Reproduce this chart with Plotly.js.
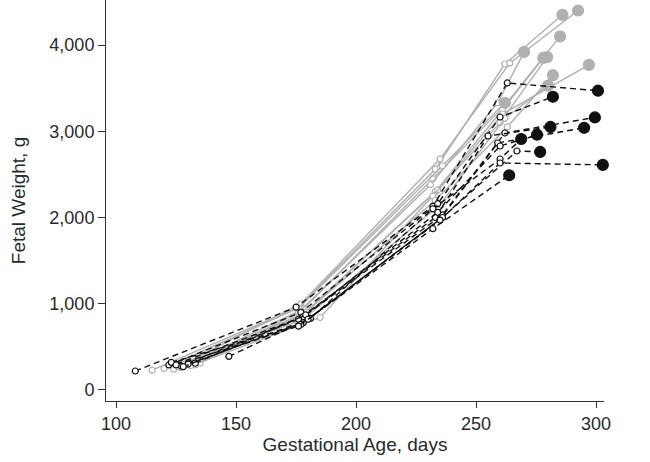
<!DOCTYPE html>
<html>
<head>
<meta charset="utf-8">
<script src="https://cdn.plot.ly/plotly-3.0.1.min.js"></script>
<style>
  html, body { margin: 0; padding: 0; background: #fff; }
  #chart { width: 650px; height: 462px; }
</style>
</head>
<body>
<div id="chart"></div>
<script>
// gestational age (days) and fetal weight (g) per fetus, last point = birth
const grayDays = [
    [115, 176, 233, 262, 286],
    [124, 177, 235, 264, 292.5],
    [127, 178, 232, 262, 285],
    [133, 176, 231, 259, 270],
    [135, 178, 233, 261, 278],
    [128, 177, 234, 260, 279.6],
    [131, 185, 232, 261, 297],
    [126, 179, 233, 263, 282],
    [130, 178, 235, 262, 280],
    [120, 176, 236, 262],
];
const grayWeights = [
    [230, 960, 2560, 3780, 4350],
    [240, 1000, 2680, 3790, 4400],
    [260, 940, 2450, 3300, 4100],
    [290, 900, 2380, 3330, 3920],
    [310, 880, 2300, 3250, 3850],
    [300, 850, 2320, 3100, 3860],
    [280, 840, 2250, 3200, 3770],
    [270, 900, 2200, 3050, 3650],
    [320, 820, 2150, 3150, 3530],
    [250, 950, 2600, 3330],
];
const blackDays = [
    [108, 175, 232, 263, 300.8],
    [122, 177, 234, 260, 282],
    [125, 178, 236, 262, 299.5],
    [127, 176, 233, 255, 281],
    [130, 178, 235, 259, 295],
    [133, 179, 234, 260, 275.4],
    [128, 181, 232, 260, 268.8],
    [123, 177, 236, 267, 276.7],
    [147, 180, 235, 260, 302.8],
    [125, 176, 232, 263.8],
];
const blackWeights = [
    [220, 960, 2130, 3560, 3470],
    [290, 900, 2160, 3165, 3400],
    [300, 850, 2030, 2980, 3160],
    [280, 820, 2000, 2945, 3050],
    [300, 780, 1980, 2864, 3040],
    [310, 870, 2060, 2829, 2960],
    [270, 830, 2100, 2678, 2910],
    [320, 760, 2000, 2771, 2760],
    [390, 820, 1970, 2632, 2610],
    [290, 740, 1870, 2490],
];

const GRAY = '#b0b0b0';
const BLACK = '#111111';

function makeTrace(x, y, color, dash) {
    const n = x.length;
    const fill = x.map((_, i) => i === n - 1 ? color : 'white');
    const size = x.map((_, i) => i === n - 1 ? 11 : 6);
    return {
        x: x,
        y: y,
        mode: 'lines+markers',
        showlegend: false,
        hoverinfo: 'x+y',
        cliponaxis: false,
        line: { color: color, width: 1.4, dash: dash },
        marker: {
            symbol: 'circle',
            size: size,
            opacity: 1,
            color: fill,
            line: { color: color, width: 1.2 },
        },
    };
}

let data = [];
grayDays.forEach((d, i) => data.push(makeTrace(d, grayWeights[i], GRAY, 'solid')));
blackDays.forEach((d, i) => data.push(makeTrace(d, blackWeights[i], BLACK, '6px,4px')));

const tickFont = { family: 'Liberation Sans, Arial, sans-serif', size: 18, color: '#2a2a2a' };
const titleFont = { family: 'Liberation Sans, Arial, sans-serif', size: 19, color: '#2a2a2a' };

let layout = {
    width: 650,
    height: 462,
    margin: { l: 106, r: 46, t: 0, b: 61 },
    paper_bgcolor: '#fff',
    plot_bgcolor: '#fff',
    font: tickFont,
    xaxis: {
        range: [95.8, 303.3],
        tickvals: [100, 150, 200, 250, 300],
        ticks: 'outside',
        ticklen: 6,
        tickcolor: '#333',
        showline: true,
        linecolor: '#333',
        linewidth: 1,
        showgrid: false,
        zeroline: false,
        tickfont: tickFont,
        title: { text: 'Gestational Age, days', font: titleFont, standoff: 4 },
    },
    yaxis: {
        range: [-128, 4522],
        tickvals: [0, 1000, 2000, 3000, 4000],
        tickformat: ',d',
        ticks: 'outside',
        ticklen: 7,
        tickcolor: '#333',
        showline: true,
        linecolor: '#333',
        linewidth: 1,
        showgrid: false,
        zeroline: false,
        tickfont: tickFont,
        title: { text: 'Fetal Weight, g', font: titleFont, standoff: 18 },
    },
};

Plotly.newPlot('chart', data, layout, { displayModeBar: false, staticPlot: true });
</script>
</body>
</html>
